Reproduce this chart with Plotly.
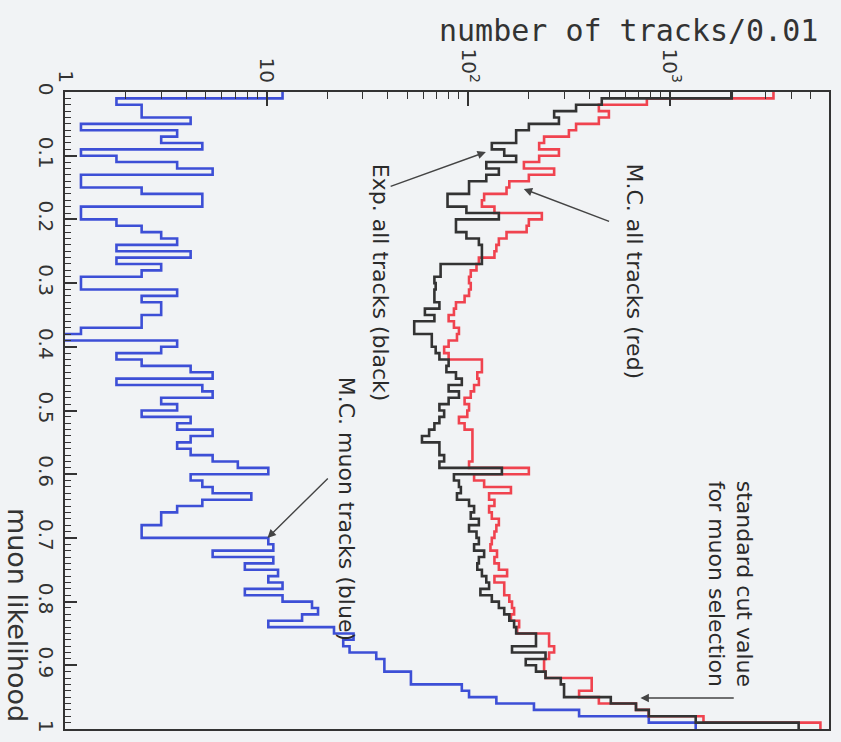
import numpy as np
import plotly.graph_objects as go

# muon likelihood bins of width 0.01
bin_edges = np.round(np.linspace(0.0, 1.0, 101), 2)

# Monte Carlo muon tracks (weighted, 0.6 per entry)
mc_muon = [12, 1.8, 2.4, 2.4, 4.2, 1.2, 3.6, 3.0, 4.8, 1.2,
           1.8, 3.6, 5.4, 1.2, 1.2, 2.4, 4.8, 4.8, 1.2, 1.2,
           1.8, 2.4, 3.0, 3.6, 1.8, 4.2, 1.8, 3.0, 2.4, 1.2,
           1.2, 3.6, 2.4, 3.0, 3.0, 2.4, 2.4, 1.2, 0.6, 3.6,
           3.0, 1.8, 2.4, 4.2, 5.4, 1.8, 4.8, 5.4, 3.0, 3.6,
           2.4, 4.2, 3.6, 5.4, 4.2, 3.6, 4.2, 5.4, 7.2, 10.2,
           4.2, 4.8, 5.4, 8.4, 4.8, 3.6, 3.0, 3.0, 2.4, 2.4,
           10.2, 10.8, 5.4, 10.8, 7.8, 11.4, 10.2, 12, 7.8, 12,
           16.8, 18, 15, 10.2, 21.6, 27, 24, 25.8, 35, 38.4,
           38.4, 52, 52, 93, 101, 138, 212, 355, 787, 1345]

# Monte Carlo, all tracks
mc_all = [3270, 770, 445, 499, 445, 343, 316, 238, 225, 282,
          225, 189, 267, 200, 160, 155, 120, 117, 135, 232,
          200, 195, 155, 142, 138, 135, 113, 110, 103, 101,
          103, 101, 96, 87, 85, 80, 85, 90, 88, 80,
          76, 80, 117, 117, 111, 113, 107, 103, 96, 101,
          99, 90, 96, 105, 105, 105, 105, 105, 101, 200,
          107, 120, 163, 127, 135, 127, 131, 142, 138, 135,
          131, 129, 139, 135, 142, 156, 135, 151, 151, 160,
          165, 169, 163, 179, 175, 252, 252, 267, 252, 238,
          238, 242, 410, 410, 355, 445, 680, 787, 1470, 5590]

# experimental data, all tracks
exp_all = [2030, 460, 343, 267, 282, 200, 173, 173, 131, 151,
           173, 123, 142, 123, 101, 101, 79, 79, 98, 142,
           87, 87, 98, 113, 117, 117, 117, 73, 73, 68,
           69, 68, 68, 72, 61, 68, 54, 54, 66, 66,
           69, 72, 80, 78, 87, 93, 80, 90, 80, 72,
           76, 72, 68, 64, 59, 72, 72, 76, 72, 147,
           85, 90, 92, 88, 101, 107, 103, 113, 101, 110,
           113, 107, 120, 113, 111, 117, 123, 127, 115, 131,
           142, 151, 160, 169, 173, 217, 217, 165, 242, 193,
           217, 242, 288, 299, 299, 510, 680, 787, 1345, 4360]

likelihood_ticks = [0, 0.1, 0.2, 0.3, 0.4, 0.5, 0.6, 0.7, 0.8, 0.9, 1]
likelihood_labels = ["0", "0.1", "0.2", "0.3", "0.4", "0.5", "0.6", "0.7", "0.8", "0.9", "1"]
count_ticks = [1, 10, 100, 1000]
count_labels = ["1", "10", "10<sup>2</sup>", "10<sup>3</sup>"]
count_minor = [m * 10 ** d for d in range(4) for m in range(2, 10) if m * 10 ** d < 6000]

BG = "#f1f3f5"
INK = "#333333"
FONT = "DejaVu Sans"


def outline(counts):
    # step outline: each bin's count held over its likelihood interval
    return list(counts) + [counts[-1]], list(bin_edges)


fig = go.Figure()
for counts, colour in [(mc_muon, "#3d4fd6"), (mc_all, "#f0434f"), (exp_all, "#333333")]:
    xs, ys = outline(counts)
    fig.add_trace(go.Scatter(x=xs, y=ys, mode="lines", line_shape="vh",
                             line=dict(color=colour, width=2.6), showlegend=False,
                             hoverinfo="skip"))

# plot-area pixel box used to place the notes
L, R, T, B = 65, 831, 92, 729


def px(x):
    return (x - L) / (R - L)


def py(y):
    return (B - y) / (B - T)


notes = [
    ("Exp. all tracks (black)", 382, 283),
    ("M.C. all tracks (red)", 636, 271),
    ("M.C. muon tracks (blue)", 348, 509),
    ("standard cut value<br>for muon selection", 732, 584),
]
for text, x, y in notes:
    fig.add_annotation(text=text, x=px(x), y=py(y), xref="x domain", yref="y domain",
                       xanchor="center", yanchor="middle",
                       showarrow=False, textangle=90,
                       font=dict(family=FONT, size=22, color="#2a2a2a"))

arrows = [
    ((390, 187), (487, 152)),
    ((612, 222), (525, 189)),
    ((330, 477), (268, 538)),
    ((737, 698), (642, 698)),
]
for (tx, ty), (hx, hy) in arrows:
    fig.add_annotation(text="", x=px(hx), y=py(hy), ax=px(tx), ay=py(ty),
                       xref="x domain", yref="y domain", axref="x domain", ayref="y domain",
                       showarrow=True, arrowhead=2, arrowsize=1.2, arrowwidth=1.4,
                       arrowcolor="#444444")

fig.add_annotation(text="number of tracks/0.01", x=px(822), y=py(30), xref="paper", yref="paper",
                   xanchor="right", yanchor="middle", showarrow=False,
                   font=dict(family="DejaVu Sans Mono", size=30, color=INK))
fig.add_annotation(text="muon likelihood", x=px(18), y=py(615), xref="paper", yref="paper",
                   xanchor="center", yanchor="middle", showarrow=False, textangle=90,
                   font=dict(family=FONT, size=27, color=INK))

fig.update_layout(
    width=841, height=742,
    margin=dict(l=L, r=841 - R, t=T, b=742 - B),
    paper_bgcolor=BG, plot_bgcolor=BG,
    xaxis=dict(type="log", side="top", range=[0, 3.79],
               tickvals=count_ticks, ticktext=count_labels, tickangle=90,
               ticks="inside", ticklen=14, tickwidth=1.5, tickcolor=INK,
               minor=dict(ticks="inside", ticklen=7, tickwidth=1.2, tickcolor=INK,
                          tickvals=count_minor),
               showline=True, linecolor=INK, linewidth=2.2, mirror=True,
               showgrid=False, zeroline=False,
               tickfont=dict(family=FONT, size=20, color=INK)),
    yaxis=dict(range=[1, 0], tickvals=likelihood_ticks, ticktext=likelihood_labels,
               tickangle=90, ticks="inside", ticklen=12, tickwidth=1.5, tickcolor=INK,
               minor=dict(ticks="inside", ticklen=6, tickwidth=1.2, tickcolor=INK,
                          dtick=0.01, tick0=0),
               showline=True, linecolor=INK, linewidth=2.2, mirror=True,
               showgrid=False, zeroline=False,
               tickfont=dict(family=FONT, size=20, color=INK)),
)

fig.write_html("out.html")
